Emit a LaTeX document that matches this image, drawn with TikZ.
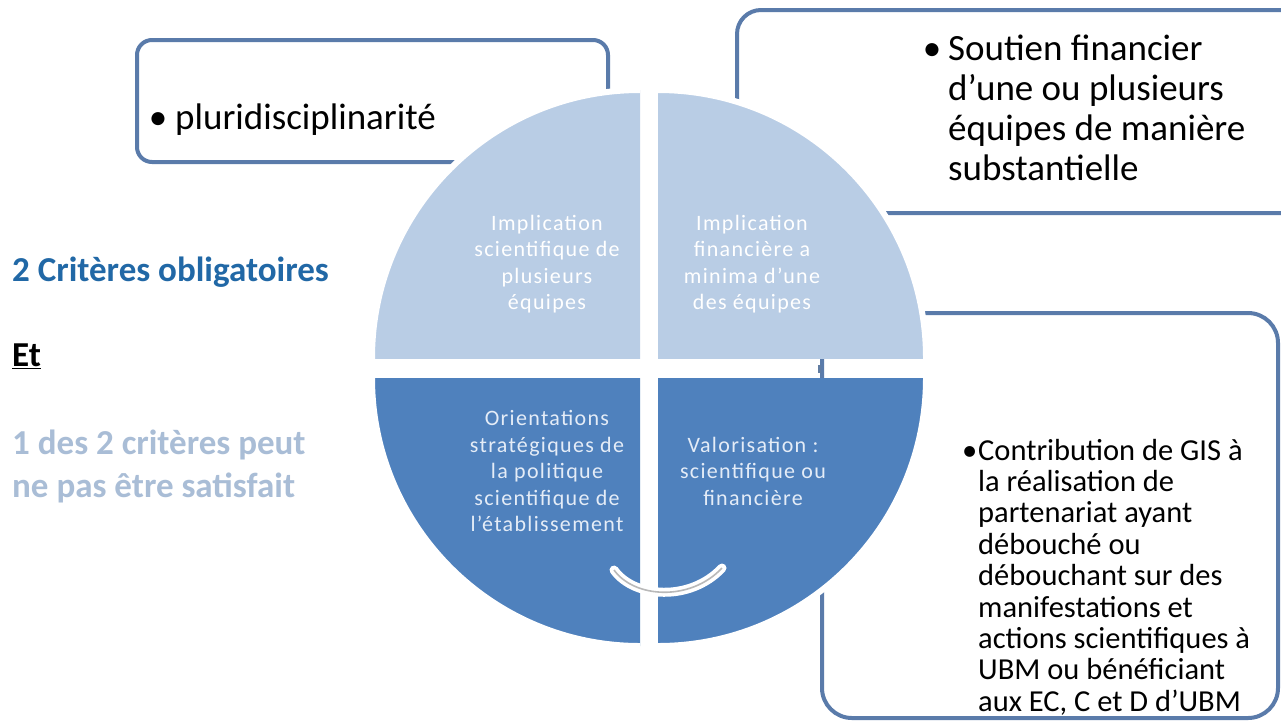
\documentclass[tikz,border=0pt]{standalone}
\usepackage{fontspec}
\setmainfont{Carlito}
\newfontfamily\quadfont[LetterSpace=6.0]{Carlito}
\definecolor{boxblue}{HTML}{5A7BAA}
\definecolor{lightq}{HTML}{B9CDE5}
\definecolor{darkq}{HTML}{4F81BD}
\definecolor{critblue}{HTML}{2168A6}
\definecolor{critlight}{HTML}{A9BDD6}
\definecolor{darkqtext}{HTML}{E4ECF7}
\begin{document}
\begin{tikzpicture}[x=1pt,y=-1pt,
  boxline/.style={draw=boxblue, line width=4pt, fill=white},
  quadtxt/.style={align=center, inner sep=0pt, font=\quadfont\fontsize{22}{26.5}\selectfont},
  boxtxt/.style={align=left, inner sep=0pt, text=black, anchor=west}]
\useasboundingbox (0,0) rectangle (1281,724);
\fill[white] (0,0) rectangle (1281,724);
\clip (0,0) rectangle (1281,724);
% boxes
\draw[boxline, rounded corners=15pt] (137,40) rectangle (608,162);
\draw[boxline, rounded corners=24pt] (737,10) rectangle (1320,213);
\draw[boxline, rounded corners=30pt] (822,313) rectangle (1278,718);
% quadrants
\begin{scope}
  \clip (360,80) rectangle (640,358);
  \fill[lightq, draw=white, line width=6pt] (640,358) circle (268pt);
\end{scope}
\begin{scope}
  \clip (658,80) rectangle (940,358);
  \fill[lightq, draw=white, line width=6pt] (658,358) circle (268pt);
\end{scope}
\begin{scope}
  \clip (360,378) rectangle (640,660);
  \fill[darkq, draw=white, line width=6pt] (640,378) circle (268pt);
\end{scope}
\begin{scope}
  \clip (658,378) rectangle (940,660);
  \fill[darkq, draw=white, line width=6pt] (658,378) circle (268pt);
\end{scope}
\fill[boxblue!80!gray] (818,365) rectangle (821,373);
% curved mark
\coordinate (ca) at (614,570);
\coordinate (cb) at (722,568);
\draw[white, line width=9pt, line cap=round] (ca) .. controls (634,598) and (690,602) .. (cb);
\draw[gray!55, line width=1.6pt] (ca) .. controls (634,598) and (690,602) .. (cb);
% quadrant texts
\node[quadtxt, text=white] (tl) at (547,264) {Implication\\scientifique de\\plusieurs\\équipes};
\node[quadtxt, text=white] (tr) at (752,264) {Implication\\financière a\\minima d’une\\des équipes};
\node[quadtxt, text=darkqtext] (bl) at (547,471) {Orientations\\stratégiques de\\la politique\\scientifique de\\l’établissement};
\node[quadtxt, text=darkqtext] (br) at (753,471) {Valorisation :\\scientifique ou\\financière};
% box texts
\node[boxtxt, font=\fontsize{37}{40}\selectfont] (plur) at (175,120) {\makebox[0pt][r]{•\hspace{8pt}}pluridisciplinarité};
\node[boxtxt, font=\fontsize{37}{40}\selectfont] (sout) at (948,108) {\makebox[0pt][r]{•\hspace{7pt}}Soutien financier\\d’une ou plusieurs\\équipes de manière\\substantielle};
\node[boxtxt, font=\fontsize{30.5}{31.4}\selectfont] (contr) at (978,577) {\makebox[0pt][r]{•\hspace{1pt}}Contribution de GIS à\\la réalisation de\\partenariat ayant\\débouché ou\\débouchant sur des\\manifestations et\\actions scientifiques à\\UBM ou bénéficiant\\aux EC, C et D d’UBM};
% left texts
\node[anchor=west, inner sep=0pt, text=critblue, font=\bfseries\fontsize{35}{40}\selectfont] (crit) at (12,272) {2 Critères obligatoires};
\node[anchor=west, inner sep=0pt, text=black, font=\bfseries\fontsize{35}{40}\selectfont] (et) at (12,356) {\underline{Et}};
\node[anchor=west, align=left, inner sep=0pt, text=critlight, font=\bfseries\fontsize{35}{43}\selectfont] (sat) at (12,466) {1 des 2 critères peut\\ne pas être satisfait};
\end{tikzpicture}
\end{document}
